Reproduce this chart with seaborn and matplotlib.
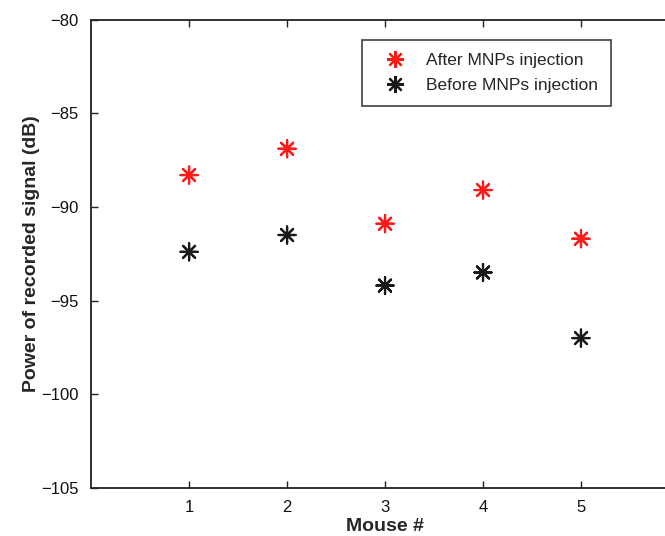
import pandas as pd
import matplotlib.pyplot as plt
import seaborn as sns

mice = [1, 2, 3, 4, 5]
after_db = [-88.3, -86.9, -90.9, -89.1, -91.7]
before_db = [-92.4, -91.5, -94.2, -93.5, -97.0]
series_names = ["After MNPs injection", "Before MNPs injection"]

df = pd.concat(
    [
        pd.DataFrame({"Mouse": mice, "Power": after_db, "Series": series_names[0]}),
        pd.DataFrame({"Mouse": mice, "Power": before_db, "Series": series_names[1]}),
    ],
    ignore_index=True,
)

sns.set_style("white")
plt.rcParams["font.family"] = ["Liberation Sans", "DejaVu Sans"]

fig = plt.figure(figsize=(6.65, 5.36), dpi=100)
# axes run past the right edge, as in the cropped original
ax = fig.add_axes([0.137, 0.0896, 0.884, 0.874])

asterisk = (8, 2, 0)
sns.scatterplot(
    data=df,
    x="Mouse",
    y="Power",
    hue="Series",
    hue_order=series_names,
    palette={series_names[0]: "#ff1a1a", series_names[1]: "#1a1a1a"},
    marker=asterisk,
    s=150,
    linewidth=1.6,
    ax=ax,
)

ax.set_xlim(0, 6)
ax.set_ylim(-105, -80)
ax.set_xticks(mice)
ax.set_yticks([-105, -100, -95, -90, -85, -80])
ax.set_yticklabels(["\u2212105", "\u2212100", "\u221295", "\u221290", "\u221285", "\u221280"])
ax.tick_params(direction="in", length=5, width=1, labelsize=12, pad=9,
               top=True, bottom=True, left=True, right=False, colors="#222222")
ax.tick_params(axis="both", labelcolor="#111111")

for side in ["left", "bottom", "top"]:
    ax.spines[side].set_visible(True)
    ax.spines[side].set_color("#222222")
    ax.spines[side].set_linewidth(1.3)
ax.spines["right"].set_visible(False)

ax.set_xlabel("Mouse #", fontsize=14, fontweight="bold", labelpad=2)
ax.set_ylabel("Power of recorded signal (dB)", fontsize=14, fontweight="bold", labelpad=1)

handles, labels = ax.get_legend_handles_labels()
leg = ax.legend(
    handles,
    labels,
    loc="upper left",
    bbox_to_anchor=(0.461, 0.956),
    borderaxespad=0,
    frameon=True,
    fancybox=False,
    edgecolor="#111111",
    fontsize=12.5,
    handlelength=2.3,
    handletextpad=0.65,
    borderpad=0.75,
    labelspacing=0.55,
    markerscale=1.0,
)
leg.get_frame().set_linewidth(1.2)

fig.savefig("out.png", dpi=100)
